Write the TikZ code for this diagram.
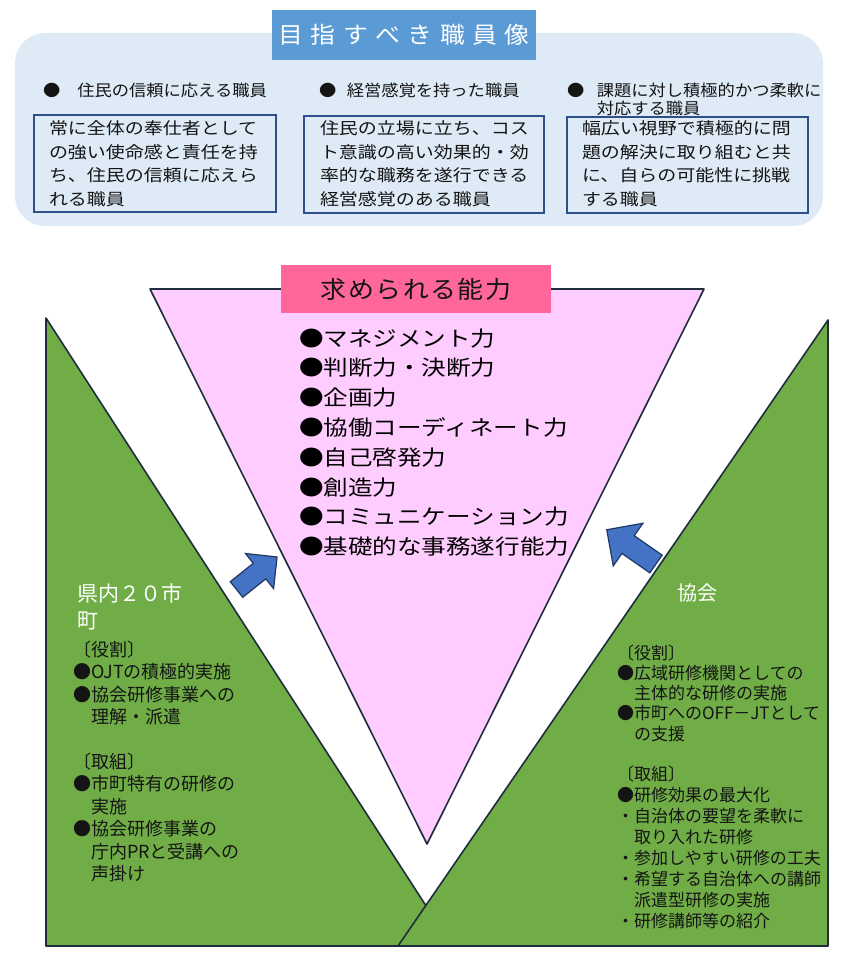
\documentclass[tikz,border=0pt]{standalone}
\usepackage{fontspec}
\setmainfont{Noto Sans CJK JP}
\newfontfamily\jpn{Noto Sans CJK JP}
\newfontfamily\jpwide[FakeStretch=1.15]{Noto Sans CJK JP}
\newfontfamily\jpmid[FakeStretch=1.08]{Noto Sans CJK JP}
\newfontfamily\jplist[FakeStretch=1.17]{Noto Sans CJK JP}
\definecolor{topbg}{HTML}{DEEBF7}
\definecolor{titleblue}{HTML}{5B9BD5}
\definecolor{boxblue}{HTML}{2F4F8A}
\definecolor{pinkfill}{HTML}{FFCCFF}
\definecolor{pinktitle}{HTML}{FF6699}
\definecolor{edgedark}{HTML}{1F2D3D}
\definecolor{leafgreen}{HTML}{70AD47}
\definecolor{arrowblue}{HTML}{4472C4}
\definecolor{arrowedge}{HTML}{1F3864}
\definecolor{textdark}{HTML}{141414}
\begin{document}
\begin{tikzpicture}[x=1pt,y=-1pt,
  txt/.style={inner sep=0pt, outer sep=0pt, align=left, text=textdark},
  boxframe/.style={draw=boxblue, line width=1.6pt, inner sep=0pt},
  shapeedge/.style={draw=edgedark, line width=1.6pt, line join=round},
  blockarrow/.style={fill=arrowblue, draw=arrowedge, line width=1.2pt, line join=miter}]
\useasboundingbox (0,0) rectangle (866,957);
\fill[white] (0,0) rectangle (866,957);

% ---------- top section ----------
\fill[topbg, rounded corners=30pt] (15,33) rectangle (823,226);
\node[fill=titleblue, minimum width=264pt, minimum height=50pt, inner sep=0pt, text=white,
  font=\jpmid\fontsize{23}{28}\selectfont] (title) at (404,35)
  {目\hspace{7.5pt}指\hspace{7.5pt}す\hspace{7.5pt}べ\hspace{7.5pt}き\hspace{7.5pt}職\hspace{7.5pt}員\hspace{7.5pt}像};

\node[txt, anchor=north west, font=\jpmid\fontsize{16}{18.3}\selectfont] (h1) at (43,82.8)
  {●\hspace{17pt}住民の信頼に応える職員};
\node[txt, anchor=north west, font=\jpmid\fontsize{16}{18.3}\selectfont] (h2) at (319,82.8)
  {●\hspace{10.5pt}経営感覚を持った職員};
\node[txt, anchor=north west, font=\jpmid\fontsize{16}{18.3}\selectfont] (h3) at (567,82.8)
  {●\hspace{12.5pt}課題に対し積極的かつ柔軟に\\\phantom{●}\hspace{12.5pt}対応する職員};

\node[boxframe, minimum width=242pt, minimum height=97pt] (b1) at (155,163.5) {};
\node[boxframe, minimum width=240pt, minimum height=97pt] (b2) at (424,164.5) {};
\node[boxframe, minimum width=241pt, minimum height=96pt] (b3) at (687.5,165) {};

\node[txt, anchor=north west, font=\jpwide\fontsize{16.5}{23.7}\selectfont] (t1) at (49,120.6)
  {常に全体の奉仕者として\\の強い使命感と責任を持\\ち、住民の信頼に応えら\\れる職員};
\node[txt, anchor=north west, font=\jpwide\fontsize{16.5}{23.7}\selectfont] (t2) at (320,120.6)
  {住民の立場に立ち、コス\\ト意識の高い効果的・効\\率的な職務を遂行できる\\経営感覚のある職員};
\node[txt, anchor=north west, font=\jpwide\fontsize{16.5}{23.7}\selectfont] (t3) at (582,120.6)
  {幅広い視野で積極的に問\\題の解決に取り組むと共\\に、自らの可能性に挑戦\\する職員};

% ---------- triangles ----------
\filldraw[fill=pinkfill, shapeedge] (150,289) -- (704,289) -- (427,844) -- cycle;
\filldraw[fill=leafgreen, shapeedge] (46,318) -- (46,946) -- (452,946) -- cycle;
\filldraw[fill=leafgreen, shapeedge] (828,320) -- (828,946) -- (398,946) -- cycle;

% ---------- pink title and list ----------
\node[fill=pinktitle, minimum width=270pt, minimum height=48pt, inner sep=0pt, text=textdark,
  font=\jpmid\fontsize{24}{28}\selectfont] (ptitle) at (416,289)
  {求\hspace{1.5pt}め\hspace{1.5pt}ら\hspace{1.5pt}れ\hspace{1.5pt}る\hspace{1.5pt}能\hspace{1.5pt}力};

\node[txt, text=black, anchor=north west, font=\jplist\fontsize{21}{29.8}\selectfont] (abilities) at (299,328.5)
  {●マネジメント力\\●判断力・決断力\\●企画力\\●協働コーディネート力\\●自己啓発力\\●創造力\\●コミュニケーション力\\●基礎的な事務遂行能力};

% ---------- arrows ----------
\begin{scope}[shift={(236.5,589.5)}, rotate=38.7]
  \filldraw[blockarrow] (0,-10) -- (29.5,-10) -- (29.5,-22.5) -- (52,0) -- (29.5,22.5) -- (29.5,10) -- (0,10) -- cycle;
\end{scope}
\begin{scope}[shift={(656,564)}, rotate=145.2]
  \filldraw[blockarrow] (0,-10.8) -- (34,-10.8) -- (34,-26) -- (60,0) -- (34,26) -- (34,10.8) -- (0,10.8) -- cycle;
\end{scope}

% ---------- left green text ----------
\node[txt, text=white, anchor=north west, font=\jpn\fontsize{21}{27}\selectfont] (city) at (77,583.5)
  {県内２０市\\町};
\node[txt, anchor=north west, font=\jpn\fontsize{18}{22.5}\selectfont] (lrole) at (73,641)
  {〔役割〕\\●OJTの積極的実施\\●協会研修事業への\\\phantom{●}理解・派遣};
\node[txt, anchor=north west, font=\jpn\fontsize{18}{22.5}\selectfont] (leffort) at (73,753)
  {〔取組〕\\●市町特有の研修の\\\phantom{●}実施\\●協会研修事業の\\\phantom{●}庁内PRと受講への\\\phantom{●}声掛け};

% ---------- right green text ----------
\node[txt, text=white, font=\jpn\fontsize{20}{24}\selectfont] (assoc) at (697,593) {協会};
\node[txt, anchor=north west, font=\jpn\fontsize{17}{20.3}\selectfont] (rrole) at (617,644.5)
  {〔役割〕\\●広域研修機関としての\\\phantom{●}主体的な研修の実施\\●市町へのOFF－JTとして\\\phantom{●}の支援};
\node[txt, anchor=north west, font=\jpn\fontsize{17}{21}\selectfont] (reffort) at (617,765.5)
  {〔取組〕\\●研修効果の最大化\\・自治体の要望を柔軟に\\\phantom{・}取り入れた研修\\・参加しやすい研修の工夫\\・希望する自治体への講師\\\phantom{・}派遣型研修の実施\\・研修講師等の紹介};
\end{tikzpicture}
\end{document}
